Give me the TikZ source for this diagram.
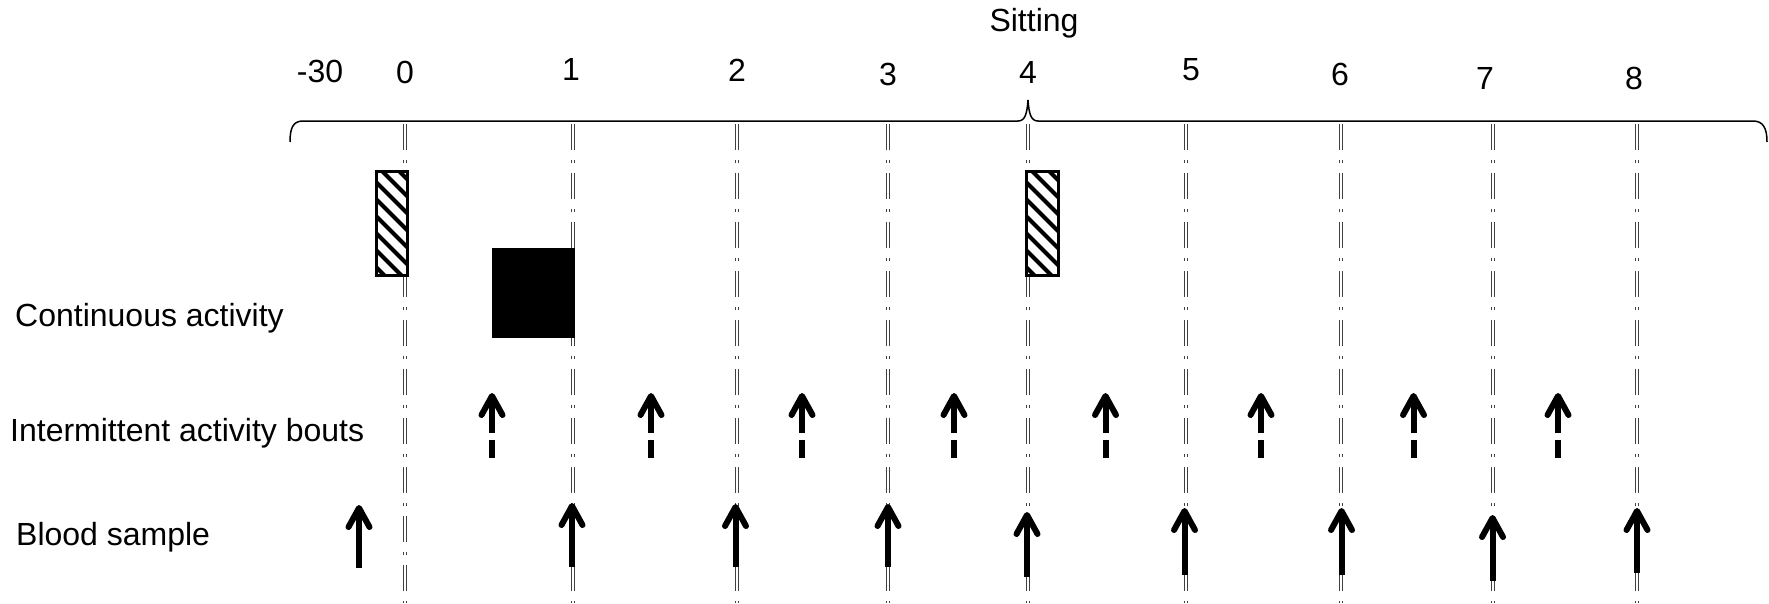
\documentclass[tikz,border=0pt]{standalone}
\usepackage{fontspec}
\setmainfont{Liberation Sans}
\usetikzlibrary{arrows.meta}
\begin{document}
\begin{tikzpicture}[x=1pt,y=-1pt,
  lbl/.style={font=\fontsize{32}{37}\selectfont, inner sep=0pt},
  tick/.style={draw=black!75, line width=0.9pt, double=white, double distance=1.6pt,
    dash pattern=on 26pt off 10pt on 3pt off 10pt},
  hatchbox/.style={draw, line width=3pt, fill=white, minimum width=31pt, minimum height=104pt,
    inner sep=0pt,
    path picture={\foreach \k in {-40,-23,...,140}
      \draw[line width=4pt] ([shift={(0,\k)}]path picture bounding box.north west) -- ++(70,70);}},
  solidbox/.style={fill=black, minimum width=83pt, minimum height=90pt, inner sep=0pt},
  bout/.style={line width=6pt, dash pattern=on 18pt off 7pt on 60pt,
    -{Straight Barb[length=19pt,width=21pt,round]}},
  sample/.style={line width=6pt, -{Straight Barb[length=19pt,width=21pt,round]}},
  brace/.style={line width=1.5pt}
]
\useasboundingbox (0,0) rectangle (1769,603);

% axis labels
\node[lbl] (sit) at (1034,23) {Sitting};
\node[lbl] (l30) at (320,71) {-30};
\node[lbl] (l0) at (405,72) {0};
\node[lbl] (l1) at (571,69) {1};
\node[lbl] (l2) at (737,70) {2};
\node[lbl] (l3) at (888,74) {3};
\node[lbl] (l4) at (1028,72) {4};
\node[lbl] (l5) at (1191,70) {5};
\node[lbl] (l6) at (1340,74) {6};
\node[lbl] (l7) at (1485,78) {7};
\node[lbl] (l8) at (1634,78) {8};

% brace
\draw[brace] (290,142) .. controls (290,128) and (293,121) .. (303,121) -- (1018,121)
  .. controls (1025,121) and (1027,114) .. (1028,100)
  .. controls (1029,114) and (1031,121) .. (1038,121) -- (1753,121)
  .. controls (1763,121) and (1767,128) .. (1767,142);

% time lines
\foreach \n/\x in {0/405,1/573,2/737,3/888,4/1028,5/1186,6/1341,7/1493,8/1637}{
  \coordinate (t\n) at (\x,124);
  \coordinate (b\n) at (\x,603);
  \draw[tick] (t\n) -- (b\n);
}

% boxes
\node[hatchbox] (h0) at (391.5,223) {};
\node[hatchbox, minimum width=32pt] (h4) at (1042,223) {};
\node[solidbox] (cont) at (533.5,293) {};

% row labels
\node[lbl, anchor=west] (rc) at (15,318) {Continuous activity};
\node[lbl, anchor=west] (ri) at (10,433) {Intermittent activity bouts};
\node[lbl, anchor=west] (rb) at (16,537) {Blood sample};

% intermittent bouts
\foreach \i/\x in {1/492,2/651,3/802,4/954,5/1105.5,6/1261,7/1413.5,8/1558}{
  \coordinate (ib\i) at (\x,458);
  \coordinate (it\i) at (\x,393);
  \draw[bout] (ib\i) -- (it\i);
}

% blood samples
\foreach \i/\x/\t/\b in {1/359/505/568,2/572/503/567,3/735.5/504/567,4/888/504/567,
  5/1027/512/577,6/1184.5/508/575,7/1341.5/508/575,8/1492.5/515/581,9/1637/508/573}{
  \coordinate (sb\i) at (\x,\b);
  \coordinate (st\i) at (\x,\t);
  \draw[sample] (sb\i) -- (st\i);
}
\end{tikzpicture}
\end{document}
